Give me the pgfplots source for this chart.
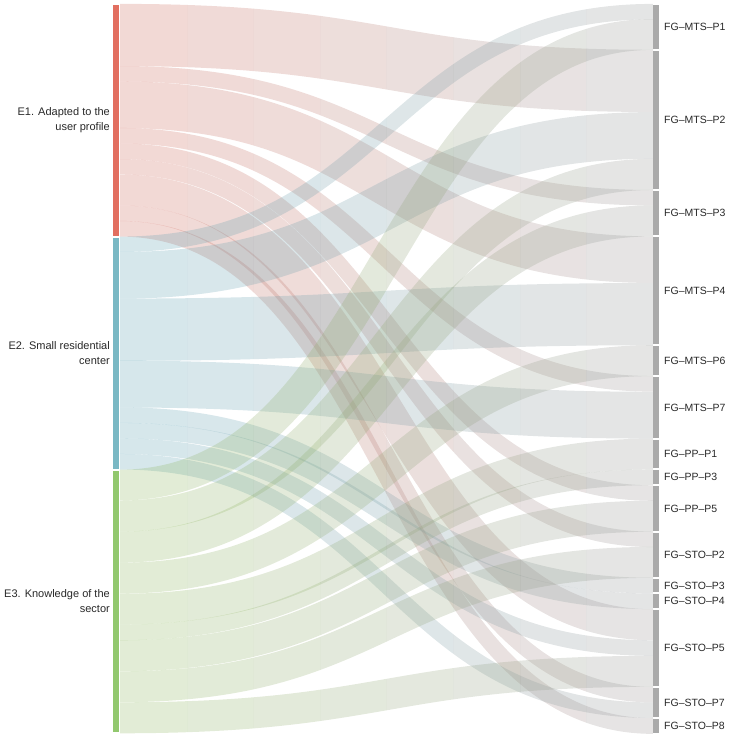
\documentclass[border=0pt]{standalone}
\usepackage{pgfplots}
\pgfplotsset{compat=1.18}
\usepackage{fontspec}
\setmainfont{Liberation Sans}
\definecolor{cE1}{RGB}{226,111,96}
\definecolor{cE2}{RGB}{122,184,196}
\definecolor{cE3}{RGB}{146,200,110}
% flow base colours, drawn at opacity 0.25
\definecolor{fE1}{RGB}{207,99,83}
\definecolor{fE2}{RGB}{87,159,179}
\definecolor{fE3}{RGB}{139,183,87}
\definecolor{cT}{RGB}{151,151,151}
\definecolor{nodeT}{RGB}{170,170,170}
\definecolor{txt}{RGB}{40,40,40}
% one vertical slice of a link: x from, x to, colour, y at source, y at target, width
\newcommand{\fseg}[6]{\begin{scope}\clip (axis cs:#1,0) rectangle (axis cs:#2,738);
 \draw[#3, draw opacity=0.25, line width=#6pt]
 (axis cs:120,#4) .. controls (axis cs:386.5,#4) and (axis cs:386.5,#5) .. (axis cs:653,#5);
 \end{scope}}
% link: colour, centre y at source, centre y at target, width (gradient source -> grey)
\newcommand{\flow}[4]{%
 \fseg{120}{187}{#1!94!cT}{#2}{#3}{#4}%
 \fseg{187}{253}{#1!81!cT}{#2}{#3}{#4}%
 \fseg{253}{320}{#1!69!cT}{#2}{#3}{#4}%
 \fseg{320}{386}{#1!56!cT}{#2}{#3}{#4}%
 \fseg{386}{453}{#1!44!cT}{#2}{#3}{#4}%
 \fseg{453}{520}{#1!31!cT}{#2}{#3}{#4}%
 \fseg{520}{586}{#1!19!cT}{#2}{#3}{#4}%
 \fseg{586}{653}{#1!6!cT}{#2}{#3}{#4}}
\newcommand{\rlab}[2]{\node[anchor=west, inner sep=0pt, text=txt, font=\fontsize{10.5}{12}\selectfont] at (axis cs:664,#1) {#2};}
\begin{document}
\begin{tikzpicture}
\begin{axis}[width=729pt, height=738pt, scale only axis, xmin=0, xmax=729, ymin=0, ymax=738,
  y dir=reverse, hide axis, clip=false]
\path (axis cs:0,0) rectangle (axis cs:729,738);
% ---- links from E1 (value 1 = about 15.5 px)
\flow{fE1}{35}{80.88}{62.2}
\flow{fE1}{73.75}{197.72}{15.45}
\flow{fE1}{104.75}{259.65}{46.6}
\flow{fE1}{135.75}{383.84}{15.6}
\flow{fE1}{151.25}{493.04}{15.5}
\flow{fE1}{166.75}{539.37}{15.4}
\flow{fE1}{190}{624.74}{31}
\flow{fE1}{213.25}{694.68}{15.5}
\flow{fE1}{228.75}{726}{15.7}
% ---- links from E2
\flow{fE2}{244.27}{11.62}{15.4}
\flow{fE2}{275.33}{135.45}{46.7}
\flow{fE2}{329.7}{314.15}{62.2}
\flow{fE2}{384.07}{415.19}{46.8}
\flow{fE2}{415.14}{585.55}{15.6}
\flow{fE2}{430.67}{601.3}{15.6}
\flow{fE2}{446.2}{648.05}{15.54}
\flow{fE2}{461.74}{710.23}{15.54}
% ---- links from E3
\flow{fE3}{485.02}{34.47}{30.8}
\flow{fE3}{516.06}{174.42}{31.1}
\flow{fE3}{547.09}{220.87}{31}
\flow{fE3}{578.13}{360.65}{30.9}
\flow{fE3}{609.17}{454}{30.8}
\flow{fE3}{632.44}{477.3}{15.7}
\flow{fE3}{655.72}{516.24}{31}
\flow{fE3}{686.76}{562.37}{30.9}
\flow{fE3}{717.79}{671.36}{31}
% ---- source nodes
\addplot[fill=cE1, draw=none, forget plot] coordinates {(113.3,5) (119.3,5) (119.3,235.5) (113.3,235.5)};
\addplot[fill=cE2, draw=none, forget plot] coordinates {(113.3,237.5) (119.3,237.5) (119.3,468.5) (113.3,468.5)};
\addplot[fill=cE3, draw=none, forget plot] coordinates {(113.3,470.5) (119.3,470.5) (119.3,732.3) (113.3,732.3)};
% ---- target nodes
\addplot[fill=nodeT, draw=none, forget plot] coordinates {(653,5) (659.3,5) (659.3,48.7) (653,48.7)};
\addplot[fill=nodeT, draw=none, forget plot] coordinates {(653,50.7) (659.3,50.7) (659.3,189) (653,189)};
\addplot[fill=nodeT, draw=none, forget plot] coordinates {(653,191) (659.3,191) (659.3,235.3) (653,235.3)};
\addplot[fill=nodeT, draw=none, forget plot] coordinates {(653,237.3) (659.3,237.3) (659.3,344.3) (653,344.3)};
\addplot[fill=nodeT, draw=none, forget plot] coordinates {(653,346.3) (659.3,346.3) (659.3,375) (653,375)};
\addplot[fill=nodeT, draw=none, forget plot] coordinates {(653,377) (659.3,377) (659.3,437.7) (653,437.7)};
\addplot[fill=nodeT, draw=none, forget plot] coordinates {(653,439.7) (659.3,439.7) (659.3,468.3) (653,468.3)};
\addplot[fill=nodeT, draw=none, forget plot] coordinates {(653,470.3) (659.3,470.3) (659.3,484.3) (653,484.3)};
\addplot[fill=nodeT, draw=none, forget plot] coordinates {(653,486.3) (659.3,486.3) (659.3,530.7) (653,530.7)};
\addplot[fill=nodeT, draw=none, forget plot] coordinates {(653,532.7) (659.3,532.7) (659.3,576.7) (653,576.7)};
\addplot[fill=nodeT, draw=none, forget plot] coordinates {(653,578.7) (659.3,578.7) (659.3,592.4) (653,592.4)};
\addplot[fill=nodeT, draw=none, forget plot] coordinates {(653,594.4) (659.3,594.4) (659.3,608.2) (653,608.2)};
\addplot[fill=nodeT, draw=none, forget plot] coordinates {(653,610.2) (659.3,610.2) (659.3,685.9) (653,685.9)};
\addplot[fill=nodeT, draw=none, forget plot] coordinates {(653,687.9) (659.3,687.9) (659.3,717) (653,717)};
\addplot[fill=nodeT, draw=none, forget plot] coordinates {(653,719) (659.3,719) (659.3,733) (653,733)};
% ---- labels
\rlab{26.9}{FG–MTS–P1}
\rlab{119.9}{FG–MTS–P2}
\rlab{213.2}{FG–MTS–P3}
\rlab{290.8}{FG–MTS–P4}
\rlab{360.7}{FG–MTS–P6}
\rlab{407.4}{FG–MTS–P7}
\rlab{454}{FG–PP–P1}
\rlab{477.3}{FG–PP–P3}
\rlab{508.5}{FG–PP–P5}
\rlab{554.7}{FG–STO–P2}
\rlab{585.6}{FG–STO–P3}
\rlab{601.3}{FG–STO–P4}
\rlab{648}{FG–STO–P5}
\rlab{702.5}{FG–STO–P7}
\rlab{726}{FG–STO–P8}
\node[anchor=east, inner sep=0pt, align=right, text=txt, font=\fontsize{11}{15}\selectfont] at (axis cs:110,120.3) {E1. Adapted to the\\user profile};
\node[anchor=east, inner sep=0pt, align=right, text=txt, font=\fontsize{11}{15}\selectfont] at (axis cs:110,353) {E2. Small residential\\center};
\node[anchor=east, inner sep=0pt, align=right, text=txt, font=\fontsize{11}{15}\selectfont] at (axis cs:110,601.4) {E3. Knowledge of the\\sector};
\end{axis}
\end{tikzpicture}
\end{document}
